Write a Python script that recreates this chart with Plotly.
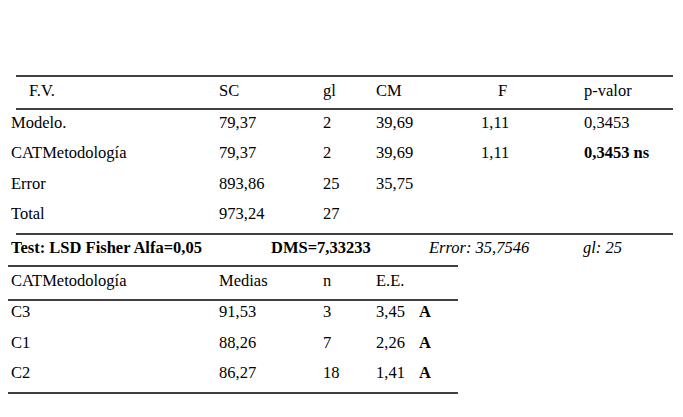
import plotly.graph_objects as go

title_lines = ["Cuadro 3. Análisis de la Varianza para la variable Índice de Promoción de los estudiantes de",
               "4to año."]
anova_header = ["F.V.", "SC", "gl", "CM", "F", "p-valor"]
anova_fv = ["Modelo.", "CATMetodología", "Error", "Total"]
anova_sc = ["79,37", "79,37", "893,86", "973,24"]
anova_gl = ["2", "2", "25", "27"]
anova_cm = ["39,69", "39,69", "35,75", ""]
anova_f = ["1,11", "1,11", "", ""]
anova_p = ["0,3453", "<b>0,3453 ns</b>", "", ""]
test_line = ["<b>Test: LSD Fisher Alfa=0,05</b>", "<b>DMS=7,33233</b>", "<i>Error: 35,7546</i>", "<i>gl: 25</i>"]
means_header = ["CATMetodología", "Medias", "n", "E.E.", ""]
means_cat = ["C3", "C1", "C2"]
means_val = ["91,53", "88,26", "86,27"]
means_n = ["3", "7", "18"]
means_ee = ["3,45", "2,26", "1,41"]
means_letter = ["<b>A</b>", "<b>A</b>", "<b>A</b>"]
footnote = "<i>Medias con una letra común no son significativamente diferentes (p > 0,05)</i>"

FONT = "Times New Roman, Liberation Serif, serif"
fig = go.Figure()
ann = []
OFF = -9
def t(x, y, s, size=16.5):
    ann.append(dict(x=x + OFF, y=y, text=s, showarrow=False, xanchor="left", yanchor="middle",
                    font=dict(family=FONT, size=size, color="black")))

t(6, 19, title_lines[0]); t(6, 48, title_lines[1])
cols = [10, 218, 322, 375, 480, 583]
hx = [28, 218, 322, 375, 497, 583]
for x, h in zip(hx, anova_header):
    t(x, 82, h)
rows_y = [114, 144, 175, 205]
for i, y in enumerate(rows_y):
    for x, arr in zip(cols, [anova_fv, anova_sc, anova_gl, anova_cm, anova_f, anova_p]):
        if arr[i]:
            t(x, y, arr[i])
for x, s in zip([10, 270, 427, 582], test_line):
    t(x, 239, s)
mcols = [10, 218, 322, 375, 418]
for x, h in zip(mcols, means_header):
    if h:
        t(x, 272, h)
for i, y in enumerate([303, 334, 364]):
    for x, arr in zip(mcols, [means_cat, means_val, means_n, means_ee, means_letter]):
        t(x, y, arr[i])
t(8, 396, footnote, 14.5)

lines = [(8, 665, 68), (8, 665, 101), (8, 665, 226), (0, 450, 258), (0, 450, 292), (0, 450, 385)]
shapes = [dict(type="line", x0=a, x1=b, y0=y, y1=y, xref="x", yref="y",
               line=dict(color="black", width=1.3)) for a, b, y in lines]

fig.update_layout(width=683, height=417, margin=dict(l=0, r=0, t=0, b=0),
                  paper_bgcolor="white", plot_bgcolor="white",
                  xaxis=dict(range=[0, 683], visible=False, fixedrange=True),
                  yaxis=dict(range=[417, 0], visible=False, fixedrange=True),
                  annotations=ann, shapes=shapes, showlegend=False)
fig.write_html("out.html")
